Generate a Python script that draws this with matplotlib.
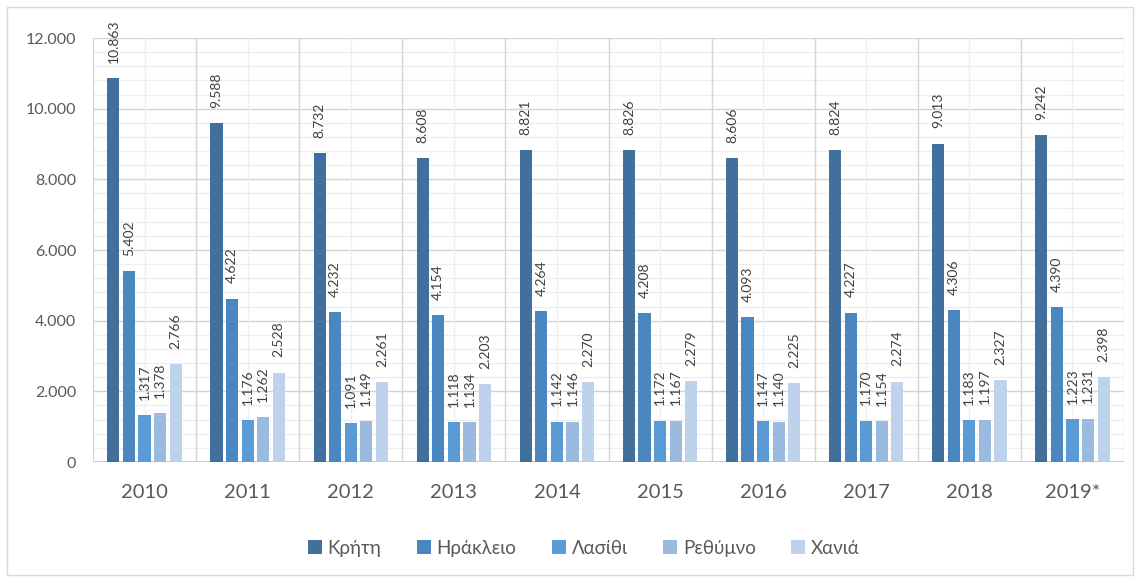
import matplotlib
matplotlib.use("Agg")
import matplotlib.pyplot as plt
import numpy as np
from matplotlib.ticker import MultipleLocator, FuncFormatter, FixedLocator
from matplotlib.patches import Rectangle

years = ["2010", "2011", "2012", "2013", "2014", "2015", "2016", "2017", "2018", "2019*"]
series_names = ["Κρήτη", "Ηράκλειο", "Λασίθι", "Ρεθύμνο", "Χανιά"]
kriti = [10863, 9588, 8732, 8608, 8821, 8826, 8606, 8824, 9013, 9242]
irakleio = [5402, 4622, 4232, 4154, 4264, 4208, 4093, 4227, 4306, 4390]
lasithi = [1317, 1176, 1091, 1118, 1142, 1172, 1147, 1170, 1183, 1223]
rethymno = [1378, 1262, 1149, 1134, 1146, 1167, 1140, 1154, 1197, 1231]
chania = [2766, 2528, 2261, 2203, 2270, 2279, 2225, 2274, 2327, 2398]
colors = ["#41709C", "#4A86C0", "#5B9BD5", "#9ABAE0", "#BED2EC"]

plt.rcParams['font.family'] = ['Lato', 'DejaVu Sans']

fig = plt.figure(figsize=(11.4, 5.8), dpi=100)
fig.patches.append(Rectangle((0.006, 0.008), 0.988, 0.98, transform=fig.transFigure,
                             fill=False, edgecolor="#d9d9d9", linewidth=1.0))
ax = fig.add_axes([93/1140, 1 - 462/580, (1124-93)/1140, (462-38)/580])

def fmt(v):
    return f"{v:,}".replace(",", ".")

data = [kriti, irakleio, lasithi, rethymno, chania]
x = np.arange(len(years))
step = 0.151
width = 0.118
for i, (vals, c, name) in enumerate(zip(data, colors, series_names)):
    pos = x + (i - 2) * step
    ax.bar(pos, vals, width=width, color=c, label=name, zorder=3)
    for p, v in zip(pos, vals):
        ax.annotate(fmt(v), (p, v), xytext=(0, 11), textcoords="offset points",
                    rotation=90, ha="center", va="bottom", fontsize=10,
                    color="#404040", zorder=4)

ax.set_xlim(-0.5, len(years) - 0.5)
ax.set_ylim(0, 12000)
ax.yaxis.set_major_locator(MultipleLocator(2000))
ax.yaxis.set_minor_locator(MultipleLocator(400))
ax.yaxis.set_major_formatter(FuncFormatter(lambda v, p: fmt(int(v))))
ax.xaxis.set_major_locator(FixedLocator(x))
ax.set_xticklabels(years)
ax.grid(False)
for v in np.arange(0, 12001, 400):
    major = (v % 2000 == 0)
    ax.axhline(v, color="#d4d4d4" if major else "#eeeeee", lw=1.0 if major else 0.9, zorder=1)
ax.axhline(0, color="#cccccc", lw=1.5, zorder=2)
for b in np.arange(-0.5, len(years), 1.0):
    ax.axvline(b, color="#d4d4d4", lw=1.0, zorder=1)
for b in x:
    ax.axvline(b, color="#eeeeee", lw=0.9, zorder=1)
for s in ax.spines.values():
    s.set_visible(False)
ax.tick_params(axis="both", which="both", length=0)
ax.tick_params(axis="y", labelsize=11.5, labelcolor="#595959", pad=12)
ax.tick_params(axis="x", labelsize=14.5, labelcolor="#595959", pad=16)

leg = fig.legend(loc="center", bbox_to_anchor=(0.512, 0.055), ncol=5, frameon=False,
                 fontsize=13.5, handlelength=0.75, handleheight=0.75, handletextpad=0.3,
                 columnspacing=1.9)
for t in leg.get_texts():
    t.set_color("#595959")

fig.savefig("out.png", dpi=100)
